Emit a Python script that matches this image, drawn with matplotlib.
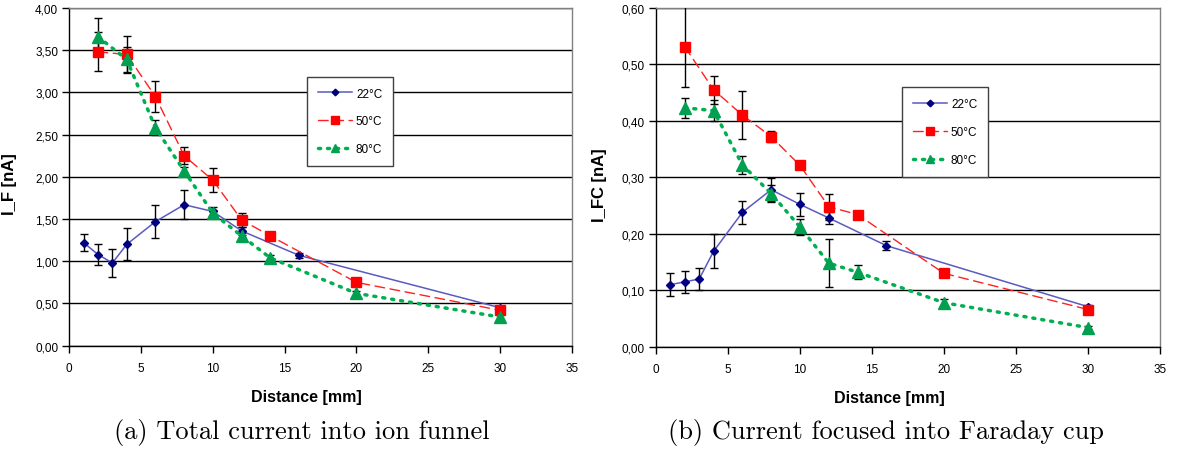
import matplotlib
matplotlib.use("Agg")
import matplotlib.pyplot as plt
from matplotlib.ticker import FuncFormatter, MultipleLocator

# ---------------- data ----------------
labels = ["22°C", "50°C", "80°C"]

# (a) total current into ion funnel
a_x22 = [1, 2, 3, 4, 6, 8, 10, 12, 16, 30]
a_y22 = [1.22, 1.08, 0.98, 1.20, 1.47, 1.67, 1.59, 1.36, 1.07, 0.45]
a_e22 = [0.10, 0.12, 0.17, 0.19, 0.20, 0.17, 0.05, 0.05, 0.03, 0.02]

a_x50 = [2, 4, 6, 8, 10, 12, 14, 20, 30]
a_y50 = [3.48, 3.45, 2.95, 2.25, 1.96, 1.49, 1.30, 0.75, 0.42]
a_e50 = [0.23, 0.22, 0.18, 0.10, 0.14, 0.08, 0.02, 0.03, 0.02]

a_x80 = [2, 4, 6, 8, 10, 12, 14, 20, 30]
a_y80 = [3.66, 3.39, 2.58, 2.07, 1.57, 1.30, 1.04, 0.62, 0.34]
a_e80 = [0.22, 0.15, 0.09, 0.05, 0.04, 0.03, 0.03, 0.03, 0.02]

# (b) current focused into Faraday cup
b_x22 = [1, 2, 3, 4, 6, 8, 10, 12, 16, 30]
b_y22 = [0.110, 0.115, 0.120, 0.169, 0.238, 0.278, 0.252, 0.228, 0.179, 0.071]
b_e22 = [0.020, 0.020, 0.019, 0.030, 0.020, 0.020, 0.020, 0.010, 0.008, 0.003]

b_x50 = [2, 4, 6, 8, 10, 12, 14, 20, 30]
b_y50 = [0.531, 0.455, 0.410, 0.372, 0.321, 0.248, 0.234, 0.130, 0.066]
b_e50 = [0.072, 0.025, 0.043, 0.010, 0.005, 0.023, 0.005, 0.004, 0.004]

b_x80 = [2, 4, 6, 8, 10, 12, 14, 20, 30]
b_y80 = [0.423, 0.418, 0.322, 0.271, 0.212, 0.148, 0.132, 0.078, 0.034]
b_e80 = [0.018, 0.019, 0.016, 0.015, 0.015, 0.042, 0.012, 0.006, 0.003]

captions = ["(a) Total current into ion funnel", "(b) Current focused into Faraday cup"]
ylabels = ["I_F [nA]", "I_FC [nA]"]
xlabel = "Distance [mm]"

# ---------------- style ----------------
plt.rcParams['font.family'] = ['Liberation Sans', 'DejaVu Sans']
W, H = 1178, 452
fig = plt.figure(figsize=(W / 100, H / 100), dpi=100)

def px_axes(x0, x1, ytop, ybot):
    return fig.add_axes([x0 / W, 1 - ybot / H, (x1 - x0) / W, (ybot - ytop) / H])

ax_a = px_axes(69.3, 571.8, 9.0, 346.7)
ax_b = px_axes(656.0, 1160.0, 8.8, 347.8)

styles = [
    dict(color='#5a5ac0', lw=1.1, ls='-', marker='D', ms=4.5, mfc='#000080', mec='#000080'),
    dict(color='#ff2020', lw=1.0, ls=(0, (7, 4)), marker='s', ms=7, mfc='#ff0000', mec='#ff0000'),
    dict(color='#00b050', lw=2.5, ls=(0, (0.6, 2.0)), marker='^', ms=8.5, mfc='#00a050', mec='#00a050'),
]

def fmt(v, pos):
    return f"{v:.2f}".replace('.', ',')

def draw(ax, series, ymax, ystep, ylabel, ylab_x, xlab_x, legend_xy):
    handles = []
    for (x, y, e), st, lab in zip(series, styles, labels):
        ax.errorbar(x, y, yerr=e, fmt='none', ecolor='black', elinewidth=1.0,
                    capsize=3, capthick=1.0, zorder=3)
        h, = ax.plot(x, y, label=lab, zorder=4, dash_capstyle='round', **st)
        handles.append(h)
    ax.set_xlim(0, 35)
    ax.set_ylim(0, ymax)
    ax.xaxis.set_major_locator(MultipleLocator(5))
    ax.yaxis.set_major_locator(MultipleLocator(ystep))
    ax.yaxis.set_major_formatter(FuncFormatter(fmt))
    ax.grid(axis='y', color='black', lw=1.0, zorder=1)
    ax.set_axisbelow(True)
    for s in ('top', 'right'):
        ax.spines[s].set_color('#808080')
        ax.spines[s].set_linewidth(1.0)
    for s in ('left', 'bottom'):
        ax.spines[s].set_color('black')
        ax.spines[s].set_linewidth(1.0)
    ax.tick_params(direction='out', length=5, width=1, labelsize=8.5, colors='black', pad=3)
    ax.tick_params(axis='x', pad=7)
    ax.set_ylabel(ylabel, fontsize=12, fontweight='bold')
    ax.yaxis.set_label_coords(ylab_x, 0.48)
    ax.set_xlabel(xlabel, fontsize=11.5, fontweight='bold')
    ax.xaxis.set_label_coords(xlab_x, -0.149)
    ax.xaxis.label.set_va('center')
    leg = ax.legend(handles=handles, loc='upper left', bbox_to_anchor=legend_xy,
                    borderaxespad=0, frameon=True, fancybox=False, framealpha=1,
                    edgecolor='#404040', fontsize=8.5, labelspacing=1.35,
                    handlelength=2.9, handletextpad=0.35, borderpad=0.9,
                    markerscale=0.75)
    leg.get_frame().set_linewidth(1.0)
    leg.set_zorder(10)

draw(ax_a, [(a_x22, a_y22, a_e22), (a_x50, a_y50, a_e50), (a_x80, a_y80, a_e80)],
     4.0, 0.5, ylabels[0], -0.105, 0.471, (0.473, 0.796))
draw(ax_b, [(b_x22, b_y22, b_e22), (b_x50, b_y50, b_e50), (b_x80, b_y80, b_e80)],
     0.6, 0.1, ylabels[1], -0.097, 0.464, (0.488, 0.765))

fig.text(301.5 / W, 1 - 433 / H, captions[0], family='cmr10', fontsize=19,
         ha='center', va='center')
fig.text(886 / W, 1 - 433 / H, captions[1], family='cmr10', fontsize=19,
         ha='center', va='center')

fig.savefig('out.png', dpi=100)
